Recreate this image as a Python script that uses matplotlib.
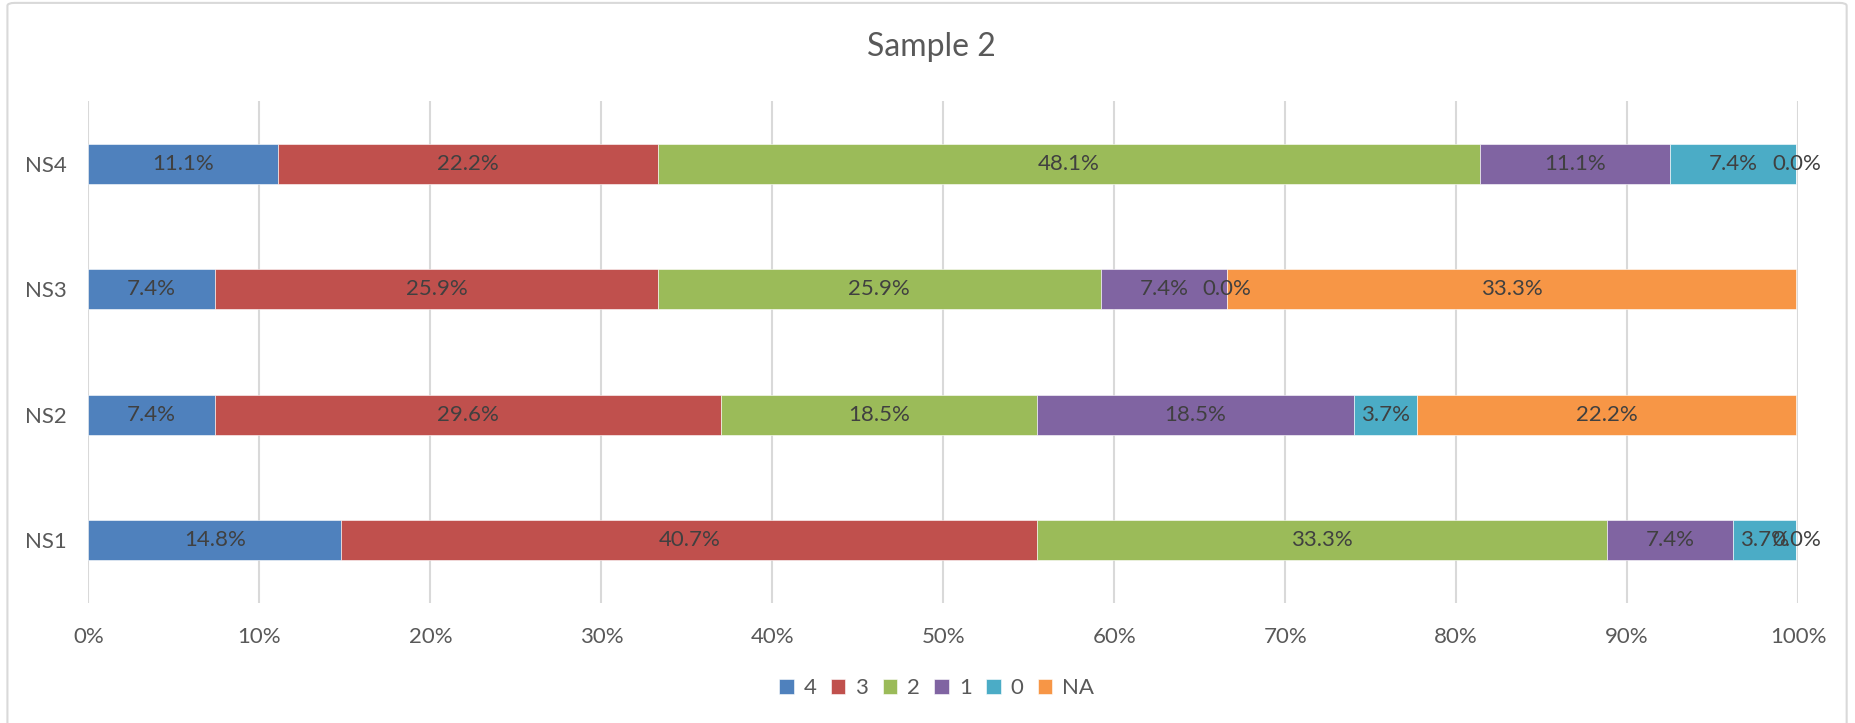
import matplotlib.pyplot as plt
import numpy as np
from matplotlib.patches import FancyBboxPatch

plt.rcParams['font.family'] = ['Lato', 'DejaVu Sans']

title = "Sample 2"
categories = ["NS1", "NS2", "NS3", "NS4"]
series_names = ["4", "3", "2", "1", "0", "NA"]
colors = ["#4F81BD", "#C0504D", "#9BBB59", "#8064A2", "#4BACC6", "#F79646"]

# percentage of each score per sample, in series order
s4 = [14.8, 7.4, 7.4, 11.1]
s3 = [40.7, 29.6, 25.9, 22.2]
s2 = [33.3, 18.5, 25.9, 48.1]
s1 = [7.4, 18.5, 7.4, 11.1]
s0 = [3.7, 3.7, 0.0, 7.4]
sna = [0.0, 22.2, 33.3, 0.0]
series = [s4, s3, s2, s1, s0, sna]

fig = plt.figure(figsize=(18.55, 7.23), dpi=100)
ax = fig.add_axes([0.0477, 0.166, 0.9216, 0.694])

# chart frame
frame = FancyBboxPatch((0.004, -0.05), 0.9915, 1.046, boxstyle="round,pad=0,rounding_size=0.004",
                       transform=fig.transFigure, facecolor="none", edgecolor="#D9D9D9",
                       linewidth=1.5, zorder=0)
fig.patches.append(frame)

y = np.arange(len(categories))
left = np.zeros(len(categories))
for name, vals, col in zip(series_names, series, colors):
    vals = np.array(vals)
    ax.barh(y, vals, left=left, height=0.32, color=col, edgecolor="white",
            linewidth=0.4, label=name, zorder=3)
    for yi, (l, v) in enumerate(zip(left, vals)):
        ax.text(l + v / 2, yi, f"{v:.1f}%", ha="center", va="center",
                fontsize=16, color="#404040", zorder=4)
    left += vals

ax.set_xlim(0, 100)
ax.set_ylim(-0.5, 3.5)
ax.set_xticks(np.arange(0, 101, 10))
ax.set_xticklabels([f"{t}%" for t in range(0, 101, 10)])
ax.set_yticks(y)
ax.set_yticklabels(categories)
ax.tick_params(axis="both", length=0, labelsize=16, labelcolor="#595959")
ax.tick_params(axis="x", pad=17)
ax.tick_params(axis="y", pad=16)
ax.grid(axis="x", color="#D9D9D9", linewidth=1.5, zorder=0)
ax.set_axisbelow(True)
for sp in ax.spines.values():
    sp.set_visible(False)

fig.text(0.502, 0.935, title, ha="center", va="center", fontsize=23, color="#595959")

fig.legend(loc="center", bbox_to_anchor=(0.505, 0.048), ncol=6, frameon=False,
           fontsize=16, labelcolor="#595959", handlelength=0.65, handleheight=0.65,
           handletextpad=0.45, columnspacing=0.65)

fig.savefig("out.png", dpi=100)
